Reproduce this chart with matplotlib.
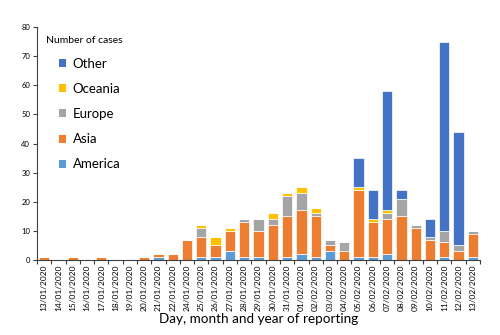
import numpy as np
import matplotlib
matplotlib.use("Agg")
import matplotlib.pyplot as plt
from matplotlib.patches import Patch

# reporting dates (23/01 is not on the axis)
dates = ["13/01/2020", "14/01/2020", "15/01/2020", "16/01/2020", "17/01/2020",
         "18/01/2020", "19/01/2020", "20/01/2020", "21/01/2020", "22/01/2020",
         "24/01/2020", "25/01/2020", "26/01/2020", "27/01/2020", "28/01/2020",
         "29/01/2020", "30/01/2020", "31/01/2020", "01/02/2020", "02/02/2020",
         "03/02/2020", "04/02/2020", "05/02/2020", "06/02/2020", "07/02/2020",
         "08/02/2020", "09/02/2020", "10/02/2020", "11/02/2020", "12/02/2020",
         "13/02/2020"]

america = [0, 0, 0, 0, 0, 0, 0, 0, 1, 0, 0, 1, 1, 3, 1, 1, 0, 1, 2, 1,
           3, 0, 1, 1, 2, 0, 0, 0, 1, 0, 1]
asia = [1, 0, 1, 0, 1, 0, 0, 1, 1, 2, 7, 7, 4, 7, 12, 9, 12, 14, 15, 14,
        2, 3, 23, 12, 12, 15, 11, 7, 5, 3, 8]
europe = [0, 0, 0, 0, 0, 0, 0, 0, 0, 0, 0, 3, 0, 0, 1, 4, 2, 7, 6, 1,
          2, 3, 0, 0, 2, 6, 1, 1, 4, 2, 1]
oceania = [0, 0, 0, 0, 0, 0, 0, 0, 0, 0, 0, 1, 3, 1, 0, 0, 2, 1, 2, 2,
           0, 0, 1, 1, 1, 0, 0, 0, 0, 0, 0]
other = [0, 0, 0, 0, 0, 0, 0, 0, 0, 0, 0, 0, 0, 0, 0, 0, 0, 0, 0, 0,
         0, 0, 10, 10, 41, 3, 0, 6, 65, 39, 0]

series = [("America", america, "#5B9BD5"),
          ("Asia", asia, "#ED7D31"),
          ("Europe", europe, "#A5A5A5"),
          ("Oceania", oceania, "#FFC000"),
          ("Other", other, "#4472C4")]

plt.rcParams["font.family"] = ["Lato", "DejaVu Sans"]

fig = plt.figure(figsize=(5, 3.35), dpi=100)
ax = fig.add_axes([0.074, 0.224, 0.886, 0.695])

x = np.arange(len(dates))
bottom = np.zeros(len(dates))
handles = {}
for name, vals, col in series:
    vals = np.array(vals)
    ax.bar(x, vals, 0.72, bottom=bottom, color=col, edgecolor="white", linewidth=0.5)
    handles[name] = Patch(facecolor=col)
    bottom += vals

ax.set_xlim(-0.5, len(dates) - 0.5)
ax.set_ylim(0, 80)
ax.set_yticks(range(0, 81, 10))
ax.tick_params(axis="y", labelsize=5.5, length=3, width=0.8, color="#404040", pad=2)

ax.set_xticks(x)
ax.set_xticklabels(dates, rotation=90, fontsize=6)
ax.set_xticks(np.arange(-0.5, len(dates), 1), minor=True)
ax.tick_params(axis="x", which="major", length=0, pad=3)
ax.tick_params(axis="x", which="minor", length=3, width=0.8, color="#404040")
ax.set_xlabel("Day, month and year of reporting", fontsize=9.7, labelpad=2)

for s in ["top", "right"]:
    ax.spines[s].set_visible(False)
for s in ["left", "bottom"]:
    ax.spines[s].set_color("#404040")
    ax.spines[s].set_linewidth(0.8)

ax.text(0.02, 0.93, "Number of cases", transform=ax.transAxes, fontsize=7.5)
order = ["Other", "Oceania", "Europe", "Asia", "America"]
ax.legend([handles[n] for n in order], order, loc="upper left",
          bbox_to_anchor=(0.022, 0.92), frameon=False, fontsize=9.5,
          handlelength=0.55, handleheight=0.55, handletextpad=0.5,
          labelspacing=1.0)

fig.savefig("out.png", dpi=100)
